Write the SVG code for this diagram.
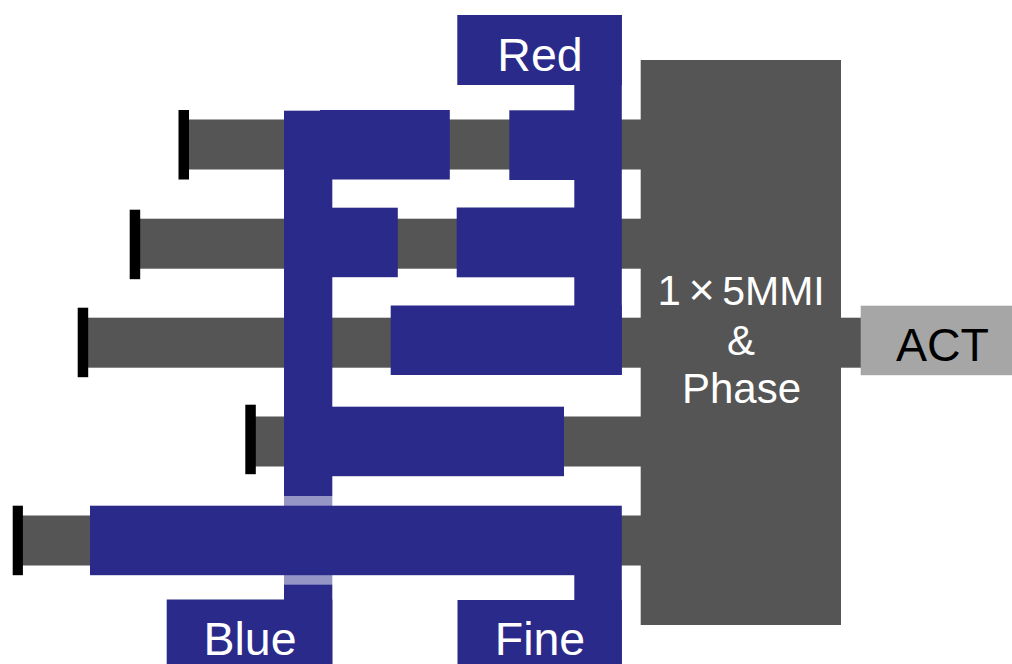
<svg xmlns="http://www.w3.org/2000/svg" width="1012" height="664" viewBox="0 0 1012 664">
<style>
.g{fill:#555555}
.k{fill:#000000}
.b{fill:#2a2a8a}
.l{fill:#9595c6}
.a{fill:#a6a6a6}
text{font-family:"Liberation Sans",Arial,sans-serif;font-size:46.5px;fill:#ffffff;text-anchor:middle}
.m{font-size:42px}
.s{text-anchor:start}
</style>
<rect width="1012" height="664" fill="#ffffff"/>
<g id="connectors">
<rect class="g" x="188" y="119.5" width="453" height="50"/>
<rect class="g" x="140" y="218.7" width="501" height="50"/>
<rect class="g" x="88" y="317.7" width="553" height="50"/>
<rect class="g" x="255" y="416.5" width="386" height="50"/>
<rect class="g" x="22" y="515.5" width="619" height="50"/>
<rect class="g" x="840" y="317.7" width="22" height="50"/>
</g>
<g id="cap-1"><rect class="k" x="178.5" y="110" width="10.5" height="69.5"/></g>
<g id="cap-2"><rect class="k" x="129.7" y="209.7" width="10.5" height="69.5"/></g>
<g id="cap-3"><rect class="k" x="77.7" y="307.7" width="10.5" height="69.5"/></g>
<g id="cap-4"><rect class="k" x="245.3" y="404.7" width="10.5" height="69.5"/></g>
<g id="cap-5"><rect class="k" x="12.7" y="505.7" width="10.2" height="69.5"/></g>
<g id="blue-electrode">
<rect class="b" x="284" y="110.7" width="48.3" height="385.5"/>
<rect class="l" x="284" y="496" width="48.3" height="10"/>
<rect class="l" x="284" y="575" width="48.3" height="10"/>
<rect class="b" x="284" y="584.7" width="48.3" height="80"/>
<rect class="b" x="320" y="110" width="129.8" height="69.5"/>
<rect class="b" x="320" y="207.7" width="77.8" height="69.5"/>
<rect class="b" x="320" y="406.7" width="244" height="69.5"/>
<rect class="b" x="166.7" y="599.5" width="165.6" height="65"/>
<text x="250" y="655">Blue</text>
</g>
<g id="red-electrode">
<rect class="b" x="574.3" y="15" width="47.5" height="360"/>
<rect class="b" x="457.3" y="15" width="164.5" height="70"/>
<rect class="b" x="509.3" y="110.3" width="100" height="69.7"/>
<rect class="b" x="456.7" y="207.5" width="150" height="69.8"/>
<rect class="b" x="390.7" y="305.5" width="231" height="69.5"/>
<text x="540" y="71">Red</text>
</g>
<g id="fine-electrode">
<rect class="b" x="90" y="505.7" width="531.8" height="69.5"/>
<rect class="b" x="574.3" y="575" width="47.5" height="90"/>
<rect class="b" x="457.5" y="600" width="164.3" height="65"/>
<text x="540" y="655">Fine</text>
</g>
<g id="mmi">
<rect class="g" x="640.7" y="60" width="200.3" height="565"/>
<text class="m s" x="657.5" y="305">1<tspan font-size="27"> </tspan><tspan font-size="45">×</tspan><tspan font-size="27"> </tspan><tspan font-size="41">5MMI</tspan></text>
<text class="m" x="741" y="355">&amp;</text>
<text class="m" x="741.5" y="403">Phase</text>
</g>
<g id="act">
<rect class="a" x="860.7" y="305.7" width="152" height="69.5"/>
<text x="942.5" y="361" style="fill:#000000">ACT</text>
</g>
</svg>
